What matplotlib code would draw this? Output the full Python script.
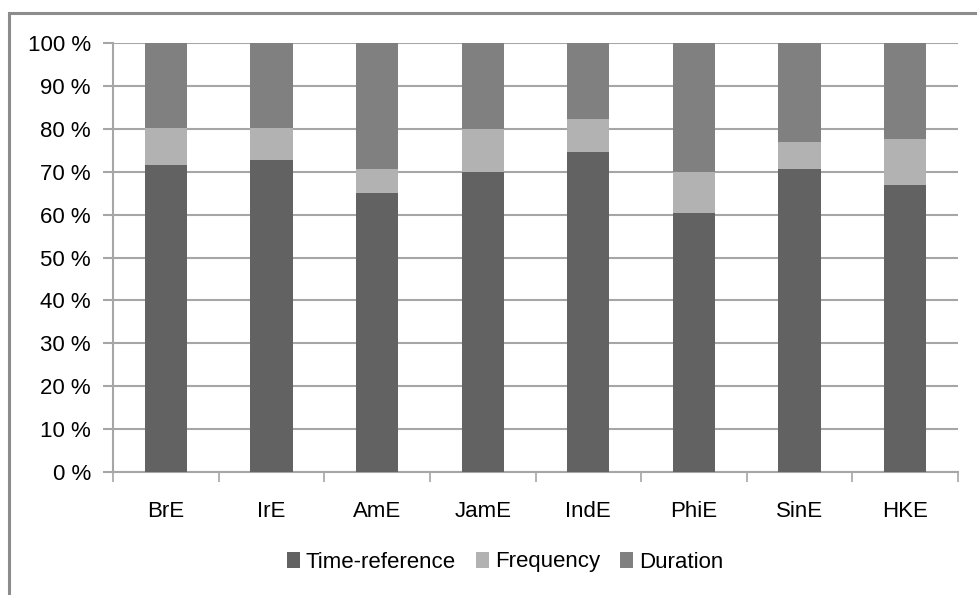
import matplotlib
matplotlib.use("Agg")
import matplotlib.pyplot as plt
from matplotlib.patches import Rectangle
from matplotlib.ticker import FixedLocator, NullFormatter
import numpy as np

categories = ["BrE", "IrE", "AmE", "JamE", "IndE", "PhiE", "SinE", "HKE"]
time_reference = [71.6, 72.8, 65.1, 70.0, 74.6, 60.3, 70.7, 66.8]
frequency = [8.7, 7.5, 5.6, 10.0, 7.8, 9.7, 6.3, 10.8]
duration = [100 - t - f for t, f in zip(time_reference, frequency)]
series_names = ["Time-reference", "Frequency", "Duration"]
colors = ["#626262", "#b2b2b2", "#808080"]
yticks = [0, 10, 20, 30, 40, 50, 60, 70, 80, 90, 100]
ytick_labels = [f"{v} %" for v in yticks]

plt.rcParams['font.family'] = ['Liberation Sans', 'DejaVu Sans']
FS = 16

fig = plt.figure(figsize=(9.77, 5.95), dpi=100)
# outer chart border
fig.patches.append(Rectangle((9/977, -0.1), 1.2, 1 - 13/595 + 0.1,
                             transform=fig.transFigure, fill=False,
                             edgecolor="#8c8c8c", linewidth=2.2, zorder=0))

ax = fig.add_axes([113/977, 1 - 472/595, (958 - 113)/977, (472 - 43)/595])
x = np.arange(len(categories))
width = 0.4
bottom = np.zeros(len(categories))
for name, vals, c in zip(series_names, [time_reference, frequency, duration], colors):
    ax.bar(x, vals, width, bottom=bottom, color=c, label=name, zorder=3)
    bottom += np.array(vals)

ax.set_xlim(-0.5, len(categories) - 0.5)
ax.set_ylim(0, 100)
ax.set_yticks(yticks)
ax.set_yticklabels(ytick_labels, fontsize=FS)
ax.yaxis.grid(True, color="#a6a6a6", linewidth=1.5, zorder=0)
ax.set_axisbelow(True)

# x ticks: marks at boundaries, labels at centers
ax.xaxis.set_major_locator(FixedLocator(np.arange(-0.5, len(categories), 1.0)))
ax.xaxis.set_major_formatter(NullFormatter())
ax.xaxis.set_minor_locator(FixedLocator(x))
ax.set_xticklabels(categories, minor=True, fontsize=FS)
ax.tick_params(axis="x", which="major", length=7, color="#a6a6a6", width=1.2)
ax.tick_params(axis="x", which="minor", length=0, pad=21)
ax.tick_params(axis="y", length=7, color="#a6a6a6", width=1.5, pad=9)

for s in ["top", "right"]:
    ax.spines[s].set_visible(False)
for s in ["left", "bottom"]:
    ax.spines[s].set_color("#a6a6a6")
    ax.spines[s].set_linewidth(1.5)

leg = fig.legend(loc="center", bbox_to_anchor=(505/977, 1 - 562/595), ncol=3,
                 frameon=False, fontsize=FS, handlelength=0.6, handleheight=0.7,
                 handletextpad=0.25, columnspacing=0.9)

fig.savefig("out.png", dpi=100)
